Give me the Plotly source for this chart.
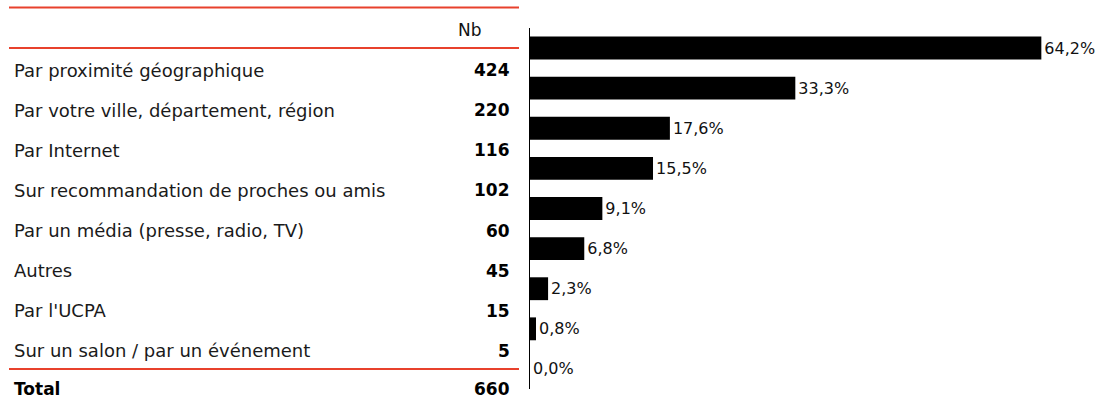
import plotly.graph_objects as go

categories = ["Par proximité géographique", "Par votre ville, département, région", "Par Internet",
              "Sur recommandation de proches ou amis", "Par un média (presse, radio, TV)", "Autres",
              "Par l'UCPA", "Sur un salon / par un événement"]
counts = [424, 220, 116, 102, 60, 45, 15, 5]
total = 660
header = "Nb"
total_label = "Total"

# bar series: one bar per row plus a trailing empty one (0,0%)
pct = [c / total * 100 for c in counts] + [0.0]
bar_pos = list(range(len(pct)))
bar_text = [f"{p:.1f}%".replace(".", ",") for p in pct]

W, H = 1105, 401
FONT = "DejaVu Sans"
LBL = 18
NUM = 17

fig = go.Figure()
fig.add_trace(go.Bar(
    x=pct, y=bar_pos, orientation="h",
    marker=dict(color="black", line=dict(width=0)),
    width=0.57,
    text=bar_text, textposition="outside", cliponaxis=False,
    textfont=dict(family=FONT, size=16, color="#111111"),
    hoverinfo="skip",
))


def py(p):
    return 1 - p / H


ann = []
ann.append(dict(x=484 / W, y=py(30), xref="paper", yref="paper", text=header, showarrow=False,
                xanchor="right", yanchor="middle", font=dict(family=FONT, size=NUM, color="#111111")))
for i, (c, n) in enumerate(zip(categories, counts)):
    ann.append(dict(x=12 / W, y=i + 0.55, xref="paper", yref="y", text=c, showarrow=False,
                    xanchor="left", yanchor="middle", font=dict(family=FONT, size=LBL, color="#1a1a1a")))
    ann.append(dict(x=512 / W, y=i + 0.55, xref="paper", yref="y", text=f"<b>{n}</b>", showarrow=False,
                    xanchor="right", yanchor="middle", font=dict(family=FONT, size=NUM, color="black")))
ann.append(dict(x=12 / W, y=len(categories) + 0.5, xref="paper", yref="y", text=f"<b>{total_label}</b>",
                showarrow=False, xanchor="left", yanchor="middle", font=dict(family=FONT, size=NUM, color="black")))
ann.append(dict(x=512 / W, y=len(categories) + 0.5, xref="paper", yref="y", text=f"<b>{total}</b>",
                showarrow=False, xanchor="right", yanchor="middle", font=dict(family=FONT, size=NUM, color="black")))

RED = "#e8412c"
shapes = [dict(type="line", xref="paper", yref="paper", x0=9 / W, x1=519 / W, y0=py(7.5), y1=py(7.5),
               line=dict(color=RED, width=2))]
for yy in [0.0, float(len(categories))]:
    shapes.append(dict(type="line", xref="paper", yref="y", x0=9 / W, x1=519 / W, y0=yy, y1=yy,
                       line=dict(color=RED, width=2)))

x_left, x_right = 530, 1100
xmax = 64.2 * (x_right - x_left) / (1041 - x_left)

fig.update_layout(
    width=W, height=H,
    margin=dict(l=0, r=0, t=0, b=0),
    paper_bgcolor="white", plot_bgcolor="white",
    showlegend=False,
    xaxis=dict(domain=[x_left / W, x_right / W], range=[0, xmax], visible=False, fixedrange=True),
    yaxis=dict(domain=[(H - 389) / H, (H - 28) / H], range=[len(pct) - 0.5, -0.5],
               showticklabels=False, ticks="", showgrid=False, zeroline=False,
               showline=True, linecolor="black", linewidth=1, fixedrange=True),
    annotations=ann, shapes=shapes,
)

fig.write_html("out.html", config={"displayModeBar": False},
               post_script="document.body.style.margin='0';")
